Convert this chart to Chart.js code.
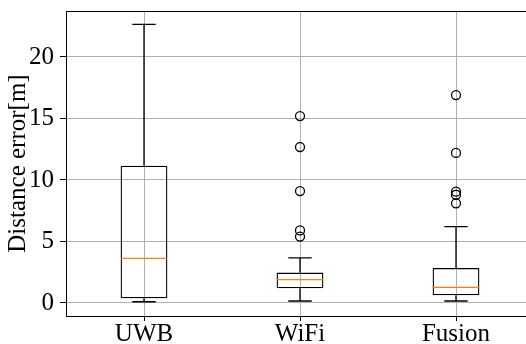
<!DOCTYPE html>
<html>
<head>
<meta charset="utf-8">
<script src="https://cdn.jsdelivr.net/npm/chart.js@4/dist/chart.umd.min.js"></script>
<style>
  html, body { margin: 0; padding: 0; background: #fff; overflow: hidden; }
  #wrap { position: relative; width: 526px; height: 344px; overflow: hidden; }
  canvas { position: absolute; left: -5px; top: -10px; }
</style>
</head>
<body>
<div id="wrap"><canvas id="box" width="545" height="358"></canvas></div>
<script>
// box plot numbers
const labels = ['UWB', 'WiFi', 'Fusion'];
const whiskerLow = [0.1, 0.16, 0.16];
const q1 = [0.38, 1.19, 0.63];
const median = [3.63, 1.9, 1.27];
const q3 = [11.16, 2.47, 2.85];
const whiskerHigh = [22.65, 3.66, 6.2];
const outliers = [
  [],
  [15.2, 12.68, 9.1, 5.9, 5.4],
  [16.9, 12.2, 9.05, 8.8, 8.1]
];
const yTicks = [0, 5, 10, 15, 20];

const boxWidth = 0.3;   // in category units, like matplotlib
const capWidth = 0.15;
const serif = 'Liberation Serif';

function init() {
  const ctx = document.getElementById('box').getContext('2d');

  const whiskerPts = [];
  const capPts = [];
  const medianPts = [];
  const outlierPts = [];
  labels.forEach((l, i) => {
    const x = i + 1;
    whiskerPts.push({x: x, y: whiskerLow[i]}, {x: x, y: q1[i]}, {x: x, y: null});
    whiskerPts.push({x: x, y: q3[i]}, {x: x, y: whiskerHigh[i]}, {x: x, y: null});
    capPts.push({x: x - capWidth / 2, y: whiskerLow[i]}, {x: x + capWidth / 2, y: whiskerLow[i]}, {x: x, y: null});
    capPts.push({x: x - capWidth / 2, y: whiskerHigh[i]}, {x: x + capWidth / 2, y: whiskerHigh[i]}, {x: x, y: null});
    medianPts.push({x: x - boxWidth / 2, y: median[i]}, {x: x + boxWidth / 2, y: median[i]}, {x: x, y: null});
    outliers[i].forEach(v => outlierPts.push({x: x, y: v}));
  });

  const lineStyle = {
    type: 'line', pointRadius: 0, borderWidth: 1.3, tension: 0, spanGaps: false, fill: false
  };

  // top spine
  const frame = {
    id: 'frame',
    afterDraw(chart) {
      const a = chart.chartArea;
      const c = chart.ctx;
      c.save();
      c.strokeStyle = '#000';
      c.lineWidth = 1;
      c.beginPath();
      c.moveTo(a.left, a.top + 0.5);
      c.lineTo(a.right, a.top + 0.5);
      c.stroke();
      c.restore();
    }
  };

  new Chart(ctx, {
    type: 'bar',
    data: {
      datasets: [
        Object.assign({}, lineStyle, {data: medianPts, borderColor: '#ff7f0e', order: 0}),
        {
          type: 'scatter',
          data: outlierPts,
          pointRadius: 4.5,
          pointBorderWidth: 1.3,
          borderColor: '#000',
          backgroundColor: 'rgba(0,0,0,0)',
          order: 1
        },
        {
          type: 'bar',
          data: labels.map((l, i) => ({x: i + 1, y: [q1[i], q3[i]]})),
          backgroundColor: 'rgba(0,0,0,0)',
          borderColor: '#000',
          borderWidth: 1.3,
          borderSkipped: false,
          barPercentage: boxWidth,
          categoryPercentage: 1,
          grouped: false,
          order: 2
        },
        Object.assign({}, lineStyle, {data: whiskerPts, borderColor: '#000', order: 3}),
        Object.assign({}, lineStyle, {data: capPts, borderColor: '#000', order: 3})
      ]
    },
    options: {
      responsive: false,
      animation: false,
      layout: { padding: { top: 11, right: 6, left: 0, bottom: 0 } },
      plugins: {
        legend: { display: false },
        tooltip: { enabled: false }
      },
      scales: {
        x: {
          type: 'linear',
          min: 0.5,
          max: 3.5,
          offset: false,
          afterBuildTicks: axis => { axis.ticks = labels.map((l, i) => ({value: i + 1})); },
          ticks: {
            callback: v => labels[v - 1],
            font: { family: serif, size: 25, lineHeight: 1 },
            color: '#000',
            padding: 1,
            maxRotation: 0
          },
          grid: { color: '#b0b0b0', tickColor: '#000', tickLength: 5, offset: false, lineWidth: 1 },
          border: { color: '#000', width: 1 }
        },
        y: {
          min: -1.06,
          max: 23.74,
          afterBuildTicks: axis => { axis.ticks = yTicks.map(v => ({value: v})); },
          ticks: {
            font: { family: serif, size: 25 },
            color: '#000',
            padding: 6
          },
          grid: { color: '#b0b0b0', tickColor: '#000', tickLength: 6, lineWidth: 1 },
          border: { color: '#000', width: 1 },
          title: {
            display: true,
            text: 'Distance error[m]',
            color: '#000',
            font: { family: serif, size: 25, lineHeight: 1 },
            padding: { top: 11, bottom: -8 }
          }
        }
      }
    },
    plugins: [frame]
  });
}

init();
</script>
</body>
</html>
